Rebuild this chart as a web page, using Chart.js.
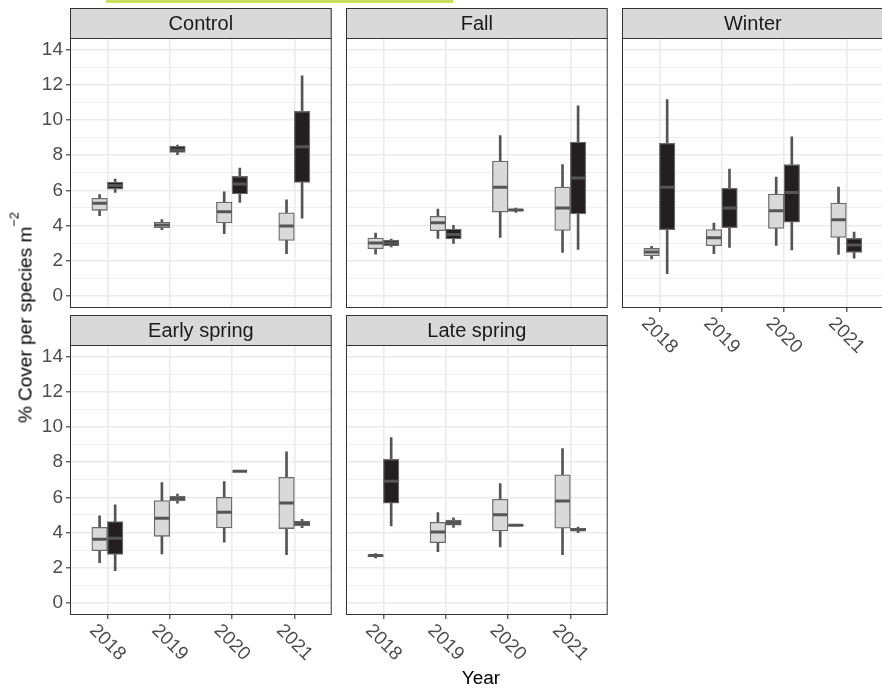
<!DOCTYPE html>
<html><head><meta charset="utf-8">
<script src="https://cdn.jsdelivr.net/npm/chart.js@4.4.1/dist/chart.umd.min.js"></script>
<style>
html,body{margin:0;padding:0;background:#fff;}
body{width:882px;height:688px;overflow:hidden;position:relative;font-family:"Liberation Sans",Arial,sans-serif;}
canvas{position:absolute;}
#topbar{position:absolute;left:106px;top:0;width:347px;height:3px;background:#c7e15c;}
#ytitle{position:absolute;left:-134.6px;top:308px;width:320px;height:19px;line-height:19px;font-size:19px;text-align:center;transform:rotate(-90deg);transform-origin:50% 50%;white-space:nowrap;color:#000;}
#ytitle span{font-size:13px;position:relative;top:-13px;}
#xtitle{position:absolute;left:431px;top:668px;width:100px;height:19px;line-height:19px;font-size:19px;text-align:center;color:#000;}
</style></head><body>
<div id="topbar"></div>
<canvas id="c0" width="342" height="378" style="left:0;top:0"></canvas>
<canvas id="c1" width="342" height="378" style="left:276px;top:0"></canvas>
<canvas id="c2" width="342" height="378" style="left:552px;top:0"></canvas>
<canvas id="c3" width="342" height="378" style="left:0;top:307px"></canvas>
<canvas id="c4" width="342" height="378" style="left:276px;top:307px"></canvas>
<div id="ytitle">% Cover per species m<span>−2</span></div>
<div id="xtitle">Year</div>
<script>
// ---- data: each entry is [min, q1, median, q3, max] per year ----
const years = ['2018', '2019', '2020', '2021'];
const panelTitles = ['Control', 'Fall', 'Winter', 'Early spring', 'Late spring'];
const yMajor = [0, 2, 4, 6, 8, 10, 12, 14];
const yMinor = [1, 3, 5, 7, 9, 11, 13];

const controlLight = [[4.55,4.86,5.26,5.54,5.75],[3.76,3.87,4.02,4.19,4.33],[3.53,4.14,4.78,5.33,5.92],[2.39,3.15,3.97,4.72,5.46]];
const controlDark  = [[5.88,6.07,6.28,6.47,6.64],[8.03,8.16,8.29,8.50,8.58],[5.31,5.79,6.36,6.79,7.27],[4.42,6.45,8.48,10.49,12.52]];
const fallLight    = [[2.37,2.67,3.00,3.28,3.57],[3.26,3.70,4.15,4.52,4.93],[3.32,4.76,6.18,7.66,9.11],[2.47,3.72,4.99,6.18,7.46]];
const fallDark     = [[2.77,2.85,3.00,3.17,3.23],[2.98,3.23,3.49,3.79,4.00],[4.74,4.82,4.88,4.93,4.99],[2.64,4.65,6.70,8.75,10.81]];
const winterLight  = [[2.09,2.28,2.49,2.69,2.81],[2.39,2.85,3.30,3.76,4.14],[2.86,3.83,4.84,5.79,6.75],[2.35,3.32,4.33,5.27,6.18]];
const winterDark   = [[1.25,3.76,6.18,8.67,11.16],[2.75,3.87,4.99,6.11,7.21],[2.60,4.19,5.88,7.46,9.05],[2.14,2.47,2.88,3.26,3.62]];
const earlyLight   = [[2.28,2.96,3.61,4.29,4.94],[2.77,3.78,4.81,5.81,6.84],[3.44,4.26,5.15,6.00,6.90],[2.74,4.22,5.68,7.14,8.59]];
const earlyDark    = [[1.82,2.75,3.67,4.62,5.57],[5.66,5.79,5.93,6.06,6.19],[7.48,7.48,7.48,7.48,7.48],[4.27,4.39,4.52,4.65,4.75]];
const lateLight    = [[2.55,2.62,2.68,2.73,2.79],[2.91,3.42,4.03,4.58,5.13],[3.17,4.08,5.00,5.89,6.78],[2.74,4.24,5.79,7.28,8.78]];
const lateDark     = [[4.37,5.66,6.91,8.17,9.40],[4.29,4.41,4.56,4.71,4.83],[4.37,4.39,4.41,4.43,4.45],[3.99,4.08,4.16,4.24,4.31]];

Chart.defaults.font.family = '"Liberation Sans", Arial, sans-serif';
const FONT = '"Liberation Sans", Arial, sans-serif';
const DODGE = 0.125;
const LIGHT = '#d9d9d9', DARK = '#231f20', LINE = '#555555', BOXLINE = '#6b6b6b';

function makePanel(id, title, light, dark, showY, showX) {
  const xL = i => i + 1 - DODGE, xD = i => i + 1 + DODGE;
  const whisk = (a, f) => a.map((s, i) => ({x: f(i), y: [s[0], s[4]]}));
  const box = (a, f) => a.map((s, i) => ({x: f(i), y: [s[1], s[3]]}));
  const med = (a, f) => a.map((s, i) => ({x: f(i), y: s[2]}));
  const whiskOpt = {type: 'bar', grouped: false, barThickness: 2, backgroundColor: LINE, borderWidth: 0, order: 3};
  const boxOpt = {type: 'bar', grouped: false, barPercentage: 1, categoryPercentage: 1, borderWidth: 1.3, borderColor: BOXLINE, borderSkipped: false, order: 2};
  const medOpt = {type: 'line', showLine: false, pointStyle: 'line', pointRadius: 7.3, pointBorderWidth: 3, pointBorderColor: LINE, borderColor: LINE, order: 1};

  const panelPlugin = {
    id: 'panel' + id,
    afterDatasetsDraw(chart) {
      const a = chart.chartArea, ctx = chart.ctx;
      ctx.save();
      ctx.strokeStyle = '#333333'; ctx.lineWidth = 1;
      ctx.strokeRect(a.left + 0.5, a.top + 0.5, a.right - a.left - 1, a.bottom - a.top - 1);
      ctx.restore();
    },
    afterDraw(chart) {
      const a = chart.chartArea, ctx = chart.ctx;
      ctx.save();
      // strip
      ctx.fillStyle = '#d9d9d9';
      ctx.fillRect(a.left, a.top - 30, a.right - a.left, 30);
      ctx.strokeStyle = '#333333'; ctx.lineWidth = 1;
      ctx.strokeRect(a.left + 0.5, a.top - 29.5, a.right - a.left - 1, 30);
      ctx.fillStyle = '#1a1a1a';
      ctx.font = '20px ' + FONT;
      ctx.textAlign = 'center'; ctx.textBaseline = 'middle';
      ctx.fillText(title, (a.left + a.right) / 2, a.top - 14);
      // rotated x labels
      if (showX) {
        const sx = chart.scales.x;
        ctx.font = '19px ' + FONT;
        ctx.fillStyle = '#4d4d4d';
        sx.ticks.forEach((t, i) => {
          ctx.save();
          ctx.translate(sx.getPixelForValue(t.value), a.bottom + 27.5);
          ctx.rotate(Math.PI / 4);
          ctx.fillText(years[i], 0, 0);
          ctx.restore();
        });
      }
      ctx.restore();
    }
  };

  return new Chart(document.getElementById(id), {
    type: 'bar',
    data: {
      datasets: [
        Object.assign({data: whisk(light, xL)}, whiskOpt),
        Object.assign({data: whisk(dark, xD)}, whiskOpt),
        Object.assign({data: box(light, xL), backgroundColor: LIGHT}, boxOpt),
        Object.assign({data: box(dark, xD), backgroundColor: DARK}, boxOpt),
        Object.assign({data: med(light, xL)}, medOpt),
        Object.assign({data: med(dark, xD)}, medOpt)
      ]
    },
    options: {
      responsive: false, maintainAspectRatio: false, animation: false,
      layout: {padding: {top: 38, right: 2, left: 0, bottom: 0}},
      plugins: {legend: {display: false}, tooltip: {enabled: false}},
      scales: {
        x: {
          type: 'linear', min: 0.4, max: 4.6, offset: false,
          afterBuildTicks: s => { s.ticks = years.map((y, i) => ({value: i + 1})); },
          afterFit: s => { s.height = 70; },
          ticks: {display: false},
          grid: {color: '#ebebeb', lineWidth: 1.6, offset: false, drawTicks: showX, tickLength: 4, tickColor: '#333333', tickWidth: 1.1},
          border: {display: false}
        },
        y: {
          type: 'linear', min: -0.7, max: 14.67,
          afterBuildTicks: s => { s.ticks = yMajor.concat(yMinor).sort((p, q) => p - q).map(v => ({value: v})); },
          afterFit: s => { s.width = 70; },
          ticks: {display: showY, autoSkip: false, padding: 3, color: '#4d4d4d', font: {size: 19},
                  callback: v => yMajor.includes(v) ? String(v) : ''},
          grid: {color: '#ebebeb',
                 lineWidth: c => (c.tick && yMajor.includes(c.tick.value)) ? 1.6 : 0.8,
                 drawTicks: showY, tickLength: 4, tickWidth: 1.1,
                 tickColor: c => (c.tick && yMajor.includes(c.tick.value)) ? '#333333' : 'rgba(0,0,0,0)'},
          border: {display: false}
        }
      }
    },
    plugins: [panelPlugin]
  });
}

makePanel('c0', panelTitles[0], controlLight, controlDark, true, false);
makePanel('c1', panelTitles[1], fallLight, fallDark, false, false);
makePanel('c2', panelTitles[2], winterLight, winterDark, false, true);
makePanel('c3', panelTitles[3], earlyLight, earlyDark, true, true);
makePanel('c4', panelTitles[4], lateLight, lateDark, false, true);
</script>
</body></html>
